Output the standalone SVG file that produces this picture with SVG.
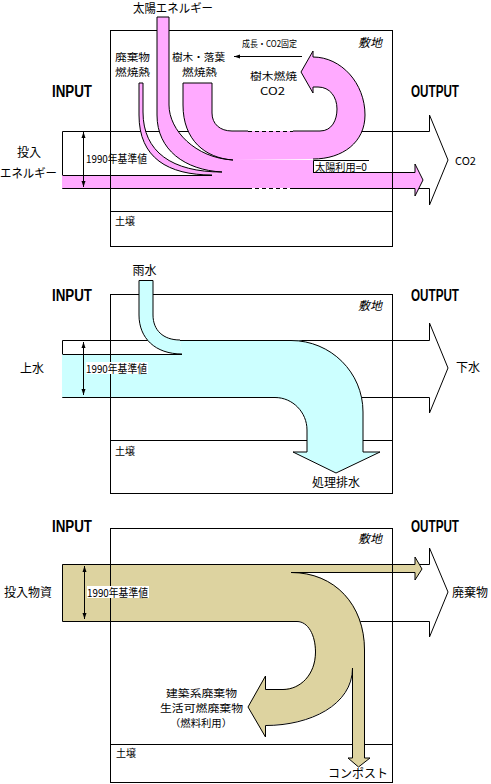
<svg xmlns="http://www.w3.org/2000/svg" width="491" height="784" viewBox="0 0 491 784">
<style>
.ln{fill:none;stroke:#000;stroke-width:1}
.dash{fill:none;stroke:#000;stroke-width:1;stroke-dasharray:4,3}
.pink{fill:#ffaaff;stroke:none}
.cyan{fill:#ccffff;stroke:none}
.tan{fill:#ddd3a0;stroke:none}
.t{font-family:"Noto Sans CJK JP","Liberation Sans",sans-serif;font-size:12px;fill:#000}
.m{font-family:"Noto Sans CJK JP","Liberation Sans",sans-serif;font-size:10px;fill:#000}
.s{font-family:"Noto Sans CJK JP","Liberation Sans",sans-serif;font-size:10px;fill:#000}
.io{font-family:"Liberation Sans",Arial,sans-serif;font-weight:bold;font-size:16px;fill:#000}
.it{font-style:italic}
.c{text-anchor:middle}
</style>
<defs>
<marker id="ah" viewBox="0 0 6 6" refX="6" refY="3" markerWidth="6" markerHeight="6" orient="auto-start-reverse" markerUnits="userSpaceOnUse"><path d="M0,1 L6,3 L0,5 Z" fill="#000"/></marker>
</defs>
<rect width="491" height="784" fill="#fff"/>

<!-- ============ Panel 1: energy ============ -->
<g id="energy-site">
<rect class="ln" x="110.5" y="30.5" width="282" height="216"/>
<line class="ln" x1="110.5" y1="211.5" x2="392.5" y2="211.5"/>
</g>
<g id="energy-envelope">
<path class="ln" d="M62.5,131.5 H230 M62.5,131.5 V188.5 M361,131.5 H429.5 V115 L448,160 L429.5,205 V188.5 H415"/>
</g>
<g id="energy-flows">
<path class="pink" d="M183,83 L212,83 L212,113 C212,124 220,131 232,131 L320,131 C332,131 337,120 337,109 C337,97 330,87 318,87 L313,87 L313,93 L301,72 L313,51 L313,57 C341,57 365,83 365,115 C365,142 343,159 313,159 L233,160 C205,158 183,140 183,105 Z"/>
<path class="pink" d="M157,17 L169,17 L169,105 C169,130 195,158 233,160 L233,172 L222,172 C185,170 157,150 157,115 Z"/>
<path class="pink" d="M139,83 L143,83 L143,112 C143,152 172,172 222,172 L212,175 C168,175 139,158 139,115 Z"/>
<path class="pink" d="M62,175 L212,175 L222,172 L233,160 L313,160 L313,172 L415,172 L415,164 L423,180 L415,196 L415,188 L62,188 Z"/>
<path class="ln" d="M183,105 L183,83 L212,83 L212,113 C212,124 220,131 232,131 L248,131"/>
<path class="dash" d="M248,131.5 H293"/>
<path class="ln" d="M293,131 L320,131 C332,131 337,120 337,109 C337,97 330,87 318,87 L313,87 L313,93 L301,72 L313,51 L313,57 C341,57 365,83 365,115 C365,142 343,159 313,159"/>
<path class="ln" d="M183,105 C183,140 205,158 233,160"/>
<path class="ln" d="M157,115 L157,17 L169,17 L169,105 C169,130 195,158 233,160 M157,115 C157,150 185,170 222,172"/>
<path class="ln" d="M139,115 L139,83 L143,83 L143,112 C143,152 172,172 222,172 M139,115 C139,158 168,175 212,175"/>
<path class="ln" d="M62.5,175.5 H212"/>
<path class="ln" d="M62.5,188.5 H248 M293,188.5 H415"/>
<path class="dash" d="M248,188.5 H293"/>
<path class="ln" d="M313,172.5 H415 V164 L423,180 L415,196 V188.5"/>
<path class="ln" d="M302,56.5 H234" marker-end="url(#ah)"/>
<line class="ln" x1="83.5" y1="132" x2="83.5" y2="187" marker-start="url(#ah)" marker-end="url(#ah)"/>
</g>
<g id="energy-labels">
<text class="t" x="86" y="163" style="font-size:11px" textLength="61" lengthAdjust="spacingAndGlyphs">1990年基準値</text>
<line class="ln" x1="110.5" y1="30.5" x2="110.5" y2="246.5"/>
<line class="ln" x1="392.5" y1="30.5" x2="392.5" y2="246.5"/>
<rect x="313" y="160" width="56" height="12" fill="#fff"/>
<path class="ln" d="M313.5,172 V160.5 H369"/>
<text class="s" x="315" y="170.5" textLength="52" lengthAdjust="spacingAndGlyphs">太陽利用=0</text>
<text class="t" x="133" y="13" textLength="80" lengthAdjust="spacingAndGlyphs">太陽エネルギー</text>
<text class="m" x="115" y="61" textLength="35" lengthAdjust="spacingAndGlyphs">廃棄物</text>
<text class="m" x="115" y="76" textLength="35" lengthAdjust="spacingAndGlyphs">燃焼熱</text>
<text class="m" x="172" y="61" textLength="53" lengthAdjust="spacingAndGlyphs">樹木・落葉</text>
<text class="m" x="182" y="76" textLength="35" lengthAdjust="spacingAndGlyphs">燃焼熱</text>
<text class="t" x="242" y="47" style="font-size:9px" textLength="55" lengthAdjust="spacingAndGlyphs">成長・CO2固定</text>
<text class="m" x="250" y="79.5" textLength="47" lengthAdjust="spacingAndGlyphs">樹木燃焼</text>
<text class="m" x="260" y="94.5" textLength="25" lengthAdjust="spacingAndGlyphs">CO2</text>
<text class="t it" x="358" y="47">敷地</text>
<text class="io" x="52" y="97" textLength="40" lengthAdjust="spacingAndGlyphs">INPUT</text>
<text class="io" x="411" y="97" textLength="48" lengthAdjust="spacingAndGlyphs">OUTPUT</text>
<text class="t" x="17" y="157">投入</text>
<text class="t" x="0" y="178" textLength="57" lengthAdjust="spacingAndGlyphs">エネルギー</text>
<text class="t" x="455" y="165" style="font-size:11px">CO2</text>
<text class="s" x="115" y="225">土壌</text>
</g>

<!-- ============ Panel 2: water ============ -->
<g id="water-site">
<rect class="ln" x="110.5" y="294.5" width="282" height="199"/>
<line class="ln" x1="110.5" y1="440.5" x2="392.5" y2="440.5"/>
</g>
<g id="water-envelope">
<path class="ln" d="M62.5,340.5 H180 M62.5,340.5 V397.5 M361,397.5 H429.5 V413 L448,368 L429.5,323 V340.5 H290"/>
</g>
<g id="water-flows">
<path class="cyan" d="M139,280 L153,280 L153,315 C153,330 163,340 180,340 L182,354 C155,354 139,338 139,315 Z"/>
<path class="cyan" d="M62,354 L182,354 L180,340 L291,340 C330.7,340 363,372.3 363,412 L363,452 L380,452 L336,473 L293,452 L307,452 L307,430 C307,412.3 292.7,398 275,398 L275,397 L62,397 Z"/>
<path class="ln" d="M139,315 V280.5 H153 V315 C153,330 163,340 180,340 M139,315 C139,338 155,354 182,354"/>
<path class="ln" d="M180,340.5 H291 C330.7,340.5 363,372.3 363,412 V452 H380 L336,473 L293,452 H307 V430 C307,412.3 292.7,397.5 275,397.5 H62.5"/>
<path class="ln" d="M62.5,354.5 H182"/>
<line class="ln" x1="83.5" y1="342" x2="83.5" y2="395" marker-start="url(#ah)" marker-end="url(#ah)"/>
</g>
<g id="water-labels">
<line class="ln" x1="110.5" y1="294.5" x2="110.5" y2="493.5"/>
<line class="ln" x1="392.5" y1="294.5" x2="392.5" y2="493.5"/>
<rect x="86" y="362" width="62" height="12" fill="#fff"/>
<text class="t" x="86" y="373" style="font-size:11px" textLength="61" lengthAdjust="spacingAndGlyphs">1990年基準値</text>
<text class="t c" x="144.5" y="275">雨水</text>
<text class="io" x="52" y="301" textLength="40" lengthAdjust="spacingAndGlyphs">INPUT</text>
<text class="io" x="411" y="301" textLength="48" lengthAdjust="spacingAndGlyphs">OUTPUT</text>
<text class="t it" x="358" y="310">敷地</text>
<text class="t" x="20" y="373">上水</text>
<text class="t" x="456" y="372">下水</text>
<text class="s" x="115" y="455">土壌</text>
<text class="t" x="312" y="487">処理排水</text>
</g>

<!-- ============ Panel 3: materials ============ -->
<g id="material-site">
<rect class="ln" x="110.5" y="528.5" width="282" height="254"/>
<line class="ln" x1="110.5" y1="744.5" x2="392.5" y2="744.5"/>
</g>
<g id="material-envelope">
<path class="ln" d="M415,564.5 H429.5 V548 L448,592 L429.5,637 V621.5 H360"/>
</g>
<g id="material-flows">
<path class="tan" d="M62,564 H415 V557 L422,569 L415,580 V572 H291 C335,572 365,605 365,650 V758 H370 L358.5,767 L348,758 H352 V668 C352,705 310,725 265,725 V737 L248,707 L265,676 V689 H283 C300,689 315,675 315,652 C315,635 308,621 297,621 H62 Z"/>
<path class="ln" d="M62.5,564.5 H415 V557 L422,569 L415,580 V572.5 H291 C335,572.5 364.5,605 364.5,650 V758 H370 L358.5,767 L348,758 H352.5 V668 C352.5,705 310,725.5 265.5,725.5 V737 L248,707 L265.5,676 V689.5 H283 C300,689.5 315.5,675 315.5,652 C315.5,635 308,621.5 297,621.5 H62.5 Z"/>
<line class="ln" x1="84.5" y1="566" x2="84.5" y2="619" marker-start="url(#ah)" marker-end="url(#ah)"/>
</g>
<g id="material-labels">
<line class="ln" x1="110.5" y1="528.5" x2="110.5" y2="782.5"/>
<line class="ln" x1="392.5" y1="528.5" x2="392.5" y2="782.5"/>
<rect x="87" y="586" width="62" height="12" fill="#fff"/>
<text class="t" x="87" y="597" style="font-size:11px" textLength="61" lengthAdjust="spacingAndGlyphs">1990年基準値</text>
<text class="io" x="52" y="532" textLength="40" lengthAdjust="spacingAndGlyphs">INPUT</text>
<text class="io" x="411" y="532" textLength="48" lengthAdjust="spacingAndGlyphs">OUTPUT</text>
<text class="t it" x="358" y="543">敷地</text>
<text class="t" x="4" y="597">投入物資</text>
<text class="t" x="452" y="597">廃棄物</text>
<text class="m" x="166" y="697" textLength="71" lengthAdjust="spacingAndGlyphs">建築系廃棄物</text>
<text class="m" x="160" y="712" textLength="83" lengthAdjust="spacingAndGlyphs">生活可燃廃棄物</text>
<text class="m" x="170" y="727" textLength="62" lengthAdjust="spacingAndGlyphs">（燃料利用）</text>
<text class="s" x="116" y="757">土壌</text>
<text class="t c" x="358" y="778">コンポスト</text>
</g>
</svg>
